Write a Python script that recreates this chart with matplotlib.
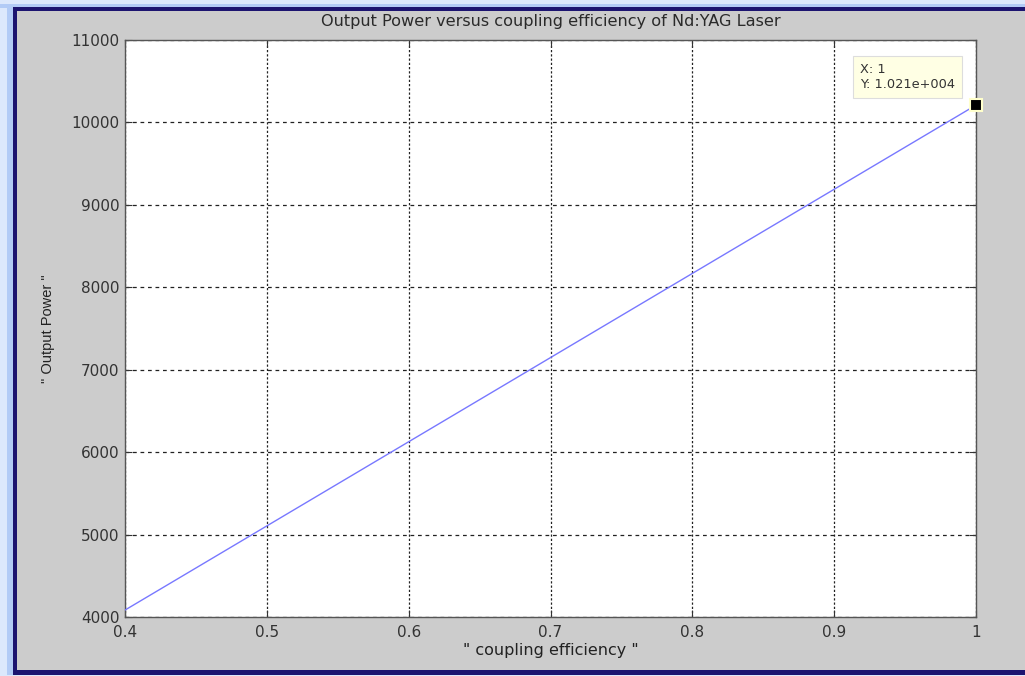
import matplotlib
matplotlib.use("Agg")
import matplotlib.pyplot as plt
from matplotlib.patches import Rectangle

coupling_efficiency = [0.4, 0.5, 0.6, 0.7, 0.8, 0.9, 1.0]
output_power = [4084, 5105, 6126, 7147, 8168, 9189, 10210]
x_ticks = [0.4, 0.5, 0.6, 0.7, 0.8, 0.9, 1.0]
x_tick_labels = ["0.4", "0.5", "0.6", "0.7", "0.8", "0.9", "1"]
y_ticks = [4000, 5000, 6000, 7000, 8000, 9000, 10000, 11000]
datatip_x, datatip_y = 1.0, 10210

plt.rcParams['font.family'] = ['DejaVu Sans']

W, H = 1025, 676
fig = plt.figure(figsize=(W / 100, H / 100), dpi=100)
fig.patch.set_facecolor('#cccccc')

# window frame
def frect(x, y, w, h, color):
    fig.add_artist(Rectangle((x / W, 1 - (y + h) / H), w / W, h / H,
                             transform=fig.transFigure, color=color, lw=0, zorder=0))

frect(0, 0, 7, H, '#dce8fc')
frect(7, 0, 6, H, '#b2cbf6')
frect(0, 0, W, 4, '#dce8fc')
frect(0, 4, W, 4, '#b2cbf6')
frect(13, 8, 4, 666, '#1c1470')
frect(13, 7, W, 4, '#1c1470')
frect(13, 670, W, 5, '#1c1470')
frect(0, 675, W, 1, '#dce8fc')

left, right, top, bottom = 125, 976, 40, 617
ax = fig.add_axes([left / W, 1 - bottom / H, (right - left) / W, (bottom - top) / H])
ax.set_facecolor('white')

ax.plot(coupling_efficiency, output_power, color='#7878ff', lw=1.0, zorder=3)
ax.plot([datatip_x], [datatip_y], marker='s', ms=8.5, color='black',
        mec='#ffffcc', mew=1.5, clip_on=False, zorder=5)

ax.set_xlim(0.4, 1.0)
ax.set_ylim(4000, 11000)
ax.set_xticks(x_ticks)
ax.set_xticklabels(x_tick_labels)
ax.set_yticks(y_ticks)
ax.xaxis.grid(True, color='#222222', linestyle=(0, (1.8, 1.6)), lw=0.9)
ax.yaxis.grid(True, color='#222222', linestyle=(0, (3.0, 3.0)), lw=0.9)
ax.tick_params(direction='in', length=5, width=0.8, labelsize=11, colors='#333333',
               top=True, right=True)
ax.tick_params(axis='x', pad=6)
ax.tick_params(axis='y', pad=4)
for s in ax.spines.values():
    s.set_color('#555555')
    s.set_linewidth(1.0)

ax.set_title('Output Power versus coupling efficiency of Nd:YAG Laser', fontsize=11.6,
             pad=10, color='#2a2a2a')
ax.set_xlabel('" coupling efficiency "', fontsize=11.5, labelpad=2, color='#222222')
ax.set_ylabel('" Output Power "', fontsize=10.5, labelpad=12, color='#222222',
              family=['Liberation Sans'])

ax.annotate('X: 1\nY: 1.021e+004', xy=(datatip_x, datatip_y), xycoords='data',
            xytext=(-116, 42), textcoords='offset pixels', fontsize=9.3,
            ha='left', va='top', linespacing=1.17, color='#333333',
            bbox=dict(boxstyle='square,pad=0.54', fc='#ffffe4', ec='#dddddd', lw=0.8),
            zorder=6)

fig.savefig('out.png', dpi=100, facecolor=fig.get_facecolor())
